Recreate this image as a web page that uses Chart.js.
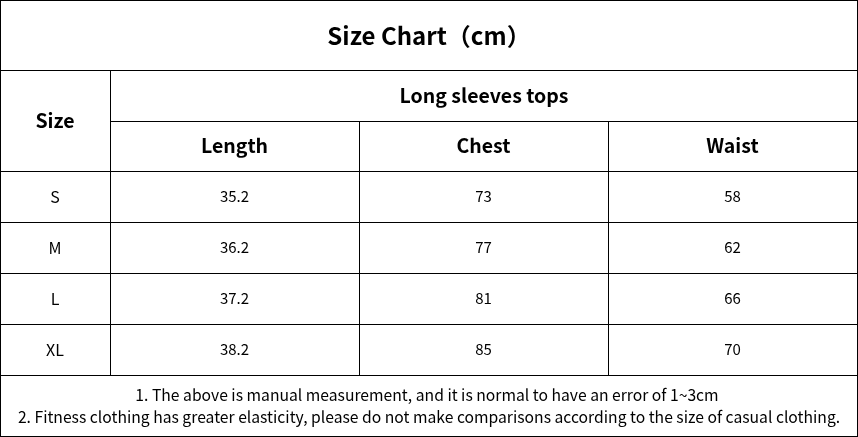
<!DOCTYPE html>
<html><head><meta charset="utf-8">
<script src="https://cdn.jsdelivr.net/npm/chart.js@4"></script>
<style>html,body{margin:0;padding:0;background:#fff;overflow:hidden}</style>
</head><body>
<canvas id="c" width="858" height="437"></canvas>
<script>
const title = "Size Chart（cm）";
const groupHeader = "Long sleeves tops";
const sizeLabel = "Size";
const columns = ["Length", "Chest", "Waist"];
const sizes = ["S", "M", "L", "XL"];
const lengthVals = ["35.2", "36.2", "37.2", "38.2"];
const chestVals = ["73", "77", "81", "85"];
const waistVals = ["58", "62", "66", "70"];
const notes = [
  "1. The above is manual measurement, and it is normal to have an error of 1~3cm",
  "2. Fitness clothing has greater elasticity, please do not make comparisons according to the size of casual clothing."
];

const F = '"Noto Sans CJK SC", "Open Sans", sans-serif';
const tablePlugin = {
  id: 'table',
  afterDraw(chart) {
    const ctx = chart.ctx;
    ctx.save();
    ctx.fillStyle = '#fff'; ctx.fillRect(0,0,858,437);
    ctx.strokeStyle = '#000'; ctx.lineWidth = 1;
    const H = (y,x1,x2)=>{ctx.beginPath();ctx.moveTo(x1,y+0.5);ctx.lineTo(x2,y+0.5);ctx.stroke();};
    const V = (x,y1,y2)=>{ctx.beginPath();ctx.moveTo(x+0.5,y1);ctx.lineTo(x+0.5,y2);ctx.stroke();};
    const xs = [0,110,359,608,857];
    const rows = [171,222,273,324,375];
    ctx.strokeRect(0.5,0.5,857,436);
    H(70,0,858); H(121,110,858); H(171,0,858);
    rows.slice(1).forEach(y=>H(y,0,858));
    V(110,70,375); V(359,121,375); V(608,121,375);
    ctx.fillStyle = '#000'; ctx.textAlign = 'center'; ctx.textBaseline = 'middle';
    const T=(s,x,y,f)=>{ctx.font=f;ctx.fillText(s,x,y);};
    T(title,429,36,'bold 24px '+F);
    T(groupHeader,484,96,'bold 19.5px '+F);
    T(sizeLabel,55,121,'bold 19.5px '+F);
    columns.forEach((c,i)=>T(c,(xs[i+1]+xs[i+2])/2,146,'bold 19.5px '+F));
    const cols=[lengthVals,chestVals,waistVals];
    sizes.forEach((s,r)=>{
      const y=(rows[r]+rows[r+1])/2;
      T(s,55,y,'16px '+F);
      cols.forEach((arr,i)=>T(arr[r],(xs[i+1]+xs[i+2])/2,y,'15px '+F));
    });
    T(notes[0],427,395,'15.7px '+F);
    T(notes[1],429,417,'15.7px '+F);
    ctx.restore();
  }
};
new Chart(document.getElementById('c'), {
  type: 'bar',
  data: { labels: sizes, datasets: [] },
  options: { responsive:false, animation:false, devicePixelRatio:1,
    plugins:{legend:{display:false},tooltip:{enabled:false}},
    scales:{x:{display:false},y:{display:false}} },
  plugins: [tablePlugin]
});
</script>
</body></html>
